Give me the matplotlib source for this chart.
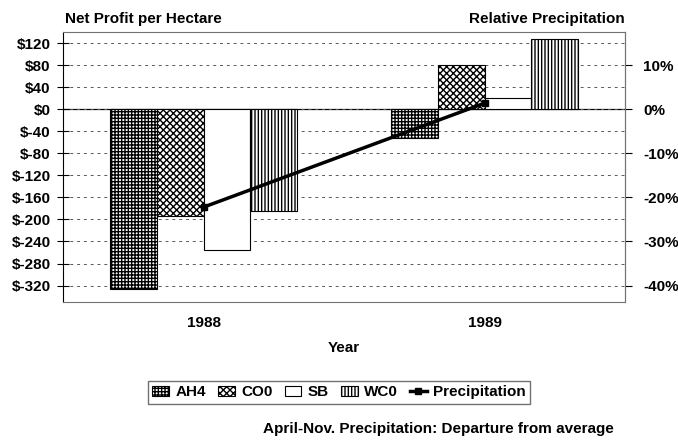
import numpy as np
import matplotlib.pyplot as plt

plt.rcParams['font.family'] = ['Liberation Sans', 'DejaVu Sans']
plt.rcParams['font.weight'] = 'bold'
plt.rcParams['axes.labelweight'] = 'bold'

years = ['1988', '1989']
series = ['AH4', 'CO0', 'SB', 'WC0']
profit = {
    'AH4': [-327, -53],
    'CO0': [-194, 80],
    'SB': [-256, 21],
    'WC0': [-184, 128],
}
precip = [-22.2, 1.4]  # % departure from average

hatches = {'AH4': '+++++', 'CO0': 'xxxxx', 'SB': '', 'WC0': '|||||'}
fs = 11

fig = plt.figure(figsize=(6.78, 4.41), dpi=100)
ax = fig.add_axes([0.093, 0.315, 0.829, 0.612])

x = np.arange(len(years))
w = 1 / 6
for i, s in enumerate(series):
    ax.bar(x + (i - 1.5) * w, profit[s], width=w, facecolor='white',
           edgecolor='black', hatch=hatches[s], linewidth=0.8,
           label=s, zorder=2)

ax.set_xlim(-0.5, 1.5)
ax.set_ylim(-350, 140)
ticks = np.arange(-320, 121, 40)
ax.set_yticks(ticks)
ax.set_yticklabels(['$%d' % t for t in ticks])
ax.grid(axis='y', linestyle=(0, (3, 4)), color='0.35', linewidth=0.7, zorder=0)
ax.axhline(0, color='black', linewidth=0.9, zorder=1)
ax.set_xticks(x)
ax.set_xticklabels(years)
ax.tick_params(axis='x', length=0, pad=10, labelsize=fs)
ax.tick_params(axis='y', direction='inout', length=8, labelsize=fs, pad=5)
for sp in ['top', 'right', 'bottom']:
    ax.spines[sp].set_color('0.45')
    ax.spines[sp].set_linewidth(0.8)
ax.spines['left'].set_linewidth(0.8)
ax.set_xlabel('Year', fontsize=fs, labelpad=8)

ax2 = ax.twinx()
ax2.set_ylim(-350 / 8, 140 / 8)
pt = np.arange(-40, 11, 10)
ax2.set_yticks(pt)
ax2.set_yticklabels(['%d%%' % t for t in pt])
ax2.tick_params(axis='y', direction='out', length=5, labelsize=fs, pad=8)
ax2.spines['right'].set_color('0.45')
for sp in ['top', 'left', 'bottom']:
    ax2.spines[sp].set_visible(False)
ln, = ax2.plot(x, precip, color='black', linewidth=2.5, marker='s',
               markersize=4, label='Precipitation', zorder=3)

fig.text(0.096, 0.948, 'Net Profit per Hectare', fontsize=fs, ha='left')
fig.text(0.922, 0.948, 'Relative Precipitation', fontsize=fs, ha='right')

h, l = ax.get_legend_handles_labels()
fig.legend(h + [ln], l + ['Precipitation'], loc='center', ncol=5,
           bbox_to_anchor=(0.500, 0.110), fontsize=fs, frameon=True,
           fancybox=False, edgecolor='0.3', handlelength=1.1,
           handleheight=0.7, handletextpad=0.4, columnspacing=0.8,
           borderpad=0.3)

fig.text(0.647, 0.018, 'April-Nov. Precipitation: Departure from average',
         fontsize=fs, ha='center')

fig.savefig('out.png', dpi=100)
